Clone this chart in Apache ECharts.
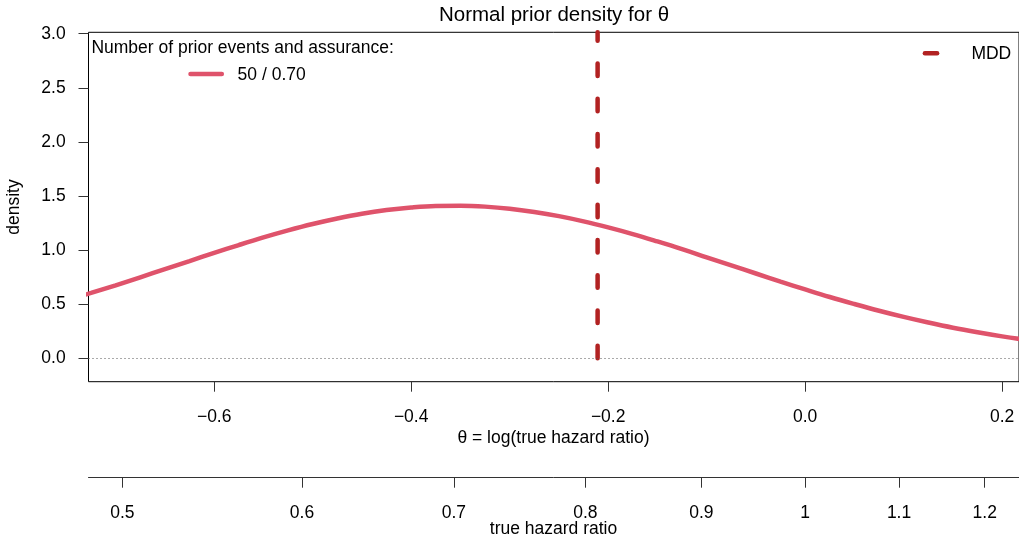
<!DOCTYPE html>
<html>
<head>
<meta charset="utf-8">
<title>Normal prior density for θ</title>
<script src="https://cdn.jsdelivr.net/npm/echarts@6/dist/echarts.min.js"></script>
<style>
  html, body { margin: 0; padding: 0; background: #ffffff; }
  #chart { width: 1019px; height: 539px; }
</style>
</head>
<body>
<div id="chart"></div>
<script>
// Prior density of theta = log(hazard ratio), tabulated on a grid
const thetaGrid = [
  -0.75, -0.725, -0.70, -0.675, -0.65, -0.625, -0.60, -0.575, -0.55, -0.525,
  -0.50, -0.475, -0.45, -0.425, -0.40, -0.375, -0.35, -0.325, -0.30, -0.275,
  -0.25, -0.225, -0.20, -0.175, -0.15, -0.125, -0.10, -0.075, -0.05, -0.025,
   0.00,  0.025,  0.05,  0.075,  0.10,  0.125,  0.15,  0.175,  0.20,  0.225, 0.25
];
const priorDensity = [
  0.536, 0.604, 0.675, 0.749, 0.824, 0.899, 0.974, 1.047, 1.117, 1.182,
  1.241, 1.292, 1.336, 1.370, 1.394, 1.408, 1.410, 1.402, 1.383, 1.353,
  1.314, 1.266, 1.210, 1.148, 1.080, 1.009, 0.934, 0.859, 0.784, 0.709,
  0.637, 0.567, 0.502, 0.440, 0.383, 0.331, 0.283, 0.241, 0.203, 0.170, 0.141
];

// Minimal detectable difference, as a hazard ratio
const mddHazardRatio = 0.81;

// Legend entries
const priorEvents = 50;
const assurance = '0.70';

// Tick values and labels
const thetaTicks = [-0.6, -0.4, -0.2, 0.0, 0.2];
const thetaTickLabels = ['\u22120.6', '\u22120.4', '\u22120.2', '0.0', '0.2'];
const hrTicks = [0.5, 0.6, 0.7, 0.8, 0.9, 1.0, 1.1, 1.2];
const hrTickLabels = ['0.5', '0.6', '0.7', '0.8', '0.9', '1', '1.1', '1.2'];
const densityTicks = [0.0, 0.5, 1.0, 1.5, 2.0, 2.5, 3.0];
const densityTickLabels = ['0.0', '0.5', '1.0', '1.5', '2.0', '2.5', '3.0'];

// Axis ranges (plot region)
const X_MIN = -0.7276, X_MAX = 0.2171;
const Y_MIN = -0.216, Y_MAX = 3.013;

const FONT = '"Liberation Sans", Arial, Helvetica, sans-serif';
const FS = 17.5;

function nearestLabel(v, values, labels) {
  let best = 0;
  for (let i = 1; i < values.length; i++) {
    if (Math.abs(values[i] - v) < Math.abs(values[best] - v)) best = i;
  }
  return labels[best];
}

const hrTickPos = hrTicks.map(Math.log);
const mddTheta = Math.log(mddHazardRatio);

const curveData = thetaGrid.map((t, i) => [t, priorDensity[i]]);
const mddData = [[mddTheta, 0], [mddTheta, Y_MAX]];

const labelStyle = { fontSize: FS, fontFamily: FONT, color: '#000', lineHeight: 20 };
const tickStyle = { color: '#333', width: 1 };

function txt(text, x, y, align, size, rot) {
  return {
    type: 'text', x: x, y: y, rotation: rot || 0, silent: true,
    style: {
      text: text, fill: '#000', font: size + 'px ' + FONT,
      align: align, textAlign: align,
      verticalAlign: 'middle', textVerticalAlign: 'middle'
    }
  };
}
function seg(x1, y1, x2, y2, color) {
  return {
    type: 'line', silent: true,
    shape: { x1: x1, y1: y1, x2: x2, y2: y2 },
    style: { stroke: color, lineWidth: 4.5, lineCap: 'round' }
  };
}

const chart = echarts.init(document.getElementById('chart'), null, { renderer: 'canvas' });

chart.setOption({
  animation: false,
  backgroundColor: '#ffffff',
  grid: {
    left: 88.5, top: 32.3, right: -1, height: 349.4,
    show: true, borderColor: '#000', borderWidth: 1, backgroundColor: 'rgba(0,0,0,0)'
  },
  xAxis: [
    {
      type: 'value', min: X_MIN, max: X_MAX, position: 'bottom',
      axisLine: { show: false, onZero: false },
      axisTick: { show: true, length: 10, customValues: thetaTicks, lineStyle: tickStyle },
      axisLabel: Object.assign({
        customValues: thetaTicks, margin: 25.5,
        formatter: v => nearestLabel(v, thetaTicks, thetaTickLabels)
      }, labelStyle),
      splitLine: { show: false }
    },
    {
      type: 'value', min: X_MIN, max: X_MAX, position: 'bottom', offset: 96,
      axisLine: { show: true, onZero: false, lineStyle: tickStyle },
      axisTick: { show: true, length: 10, customValues: hrTickPos, lineStyle: tickStyle },
      axisLabel: Object.assign({
        customValues: hrTickPos, margin: 25,
        formatter: v => nearestLabel(v, hrTickPos, hrTickLabels)
      }, labelStyle),
      splitLine: { show: false }
    }
  ],
  yAxis: {
    type: 'value', min: Y_MIN, max: Y_MAX, position: 'left',
    axisLine: { show: false, onZero: false },
    axisTick: { show: true, length: 10, customValues: densityTicks, lineStyle: tickStyle },
    axisLabel: Object.assign({
      customValues: densityTicks, margin: 22.8,
      formatter: v => nearestLabel(v, densityTicks, densityTickLabels)
    }, labelStyle),
    splitLine: { show: false }
  },
  series: [
    {
      name: priorEvents + ' / ' + assurance,
      type: 'line', xAxisIndex: 0, data: curveData,
      showSymbol: false, symbol: 'none', smooth: 0.4, clip: true,
      lineStyle: { color: '#DF536B', width: 4.5, cap: 'round' },
      markLine: {
        silent: true, symbol: 'none', label: { show: false },
        lineStyle: { color: '#555', width: 1, type: [1, 3] },
        data: [{ yAxis: 0 }]
      },
      z: 3
    },
    {
      name: 'MDD',
      type: 'line', xAxisIndex: 0, data: mddData,
      showSymbol: false, symbol: 'none', clip: true,
      lineStyle: { color: '#B22222', width: 4.5, type: [12.5, 22.8], cap: 'round' },
      z: 4
    }
  ],
  graphic: [
    txt('Normal prior density for \u03B8', 554, 15.5, 'center', 20.5),
    txt('\u03B8 = log(true hazard ratio)', 553.5, 438.2, 'center', FS),
    txt('true hazard ratio', 553.5, 529, 'center', FS),
    txt('density', 14, 207, 'center', FS, Math.PI / 2),
    txt('Number of prior events and assurance:', 91.4, 48, 'left', FS),
    seg(190.5, 74, 221.8, 74, '#DF536B'),
    txt(priorEvents + ' / ' + assurance, 237.6, 75.3, 'left', FS),
    seg(924.9, 53.3, 937.1, 53.3, '#B22222'),
    txt('MDD', 971.4, 54.1, 'left', FS)
  ]
});
</script>
</body>
</html>
